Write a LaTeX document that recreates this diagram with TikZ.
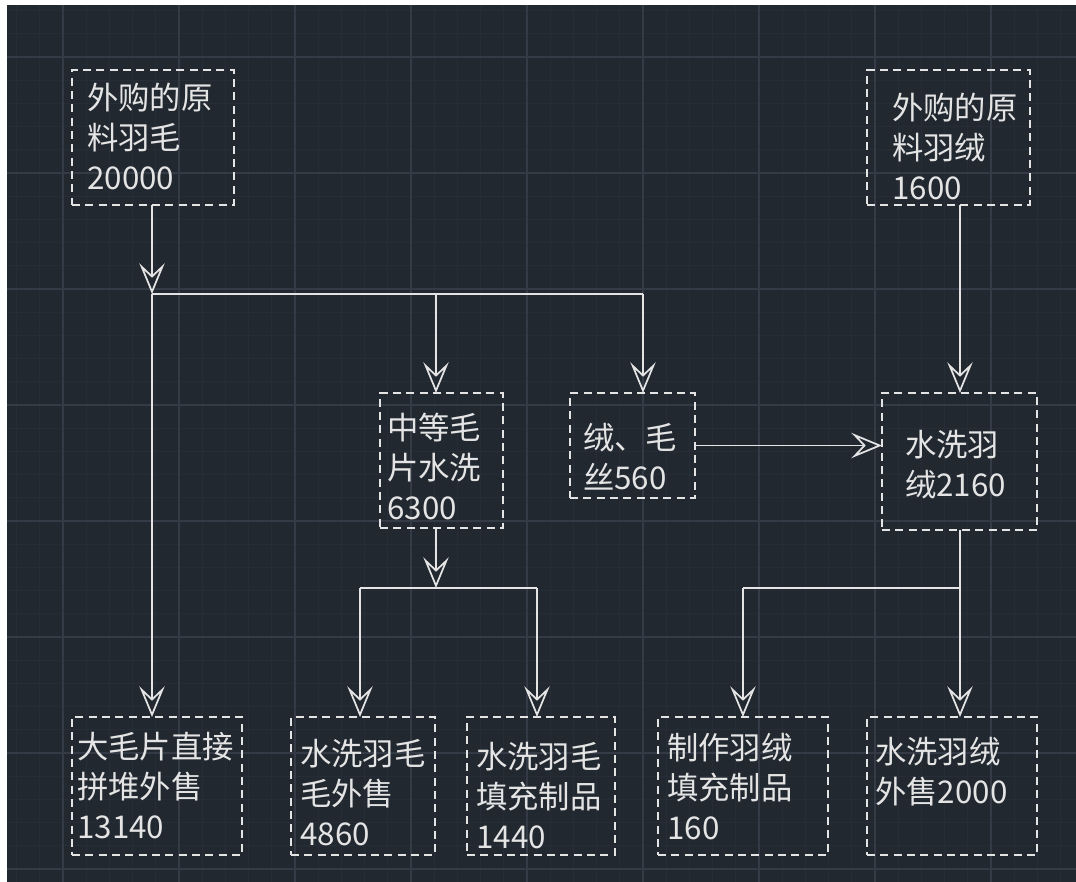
\documentclass[tikz,border=0pt]{standalone}
\usepackage{fontspec}
\setmainfont{Noto Sans CJK SC}
\usetikzlibrary{arrows.meta,fit}
\definecolor{cadbg}{HTML}{212830}
\definecolor{gridminor}{HTML}{262D37}
\definecolor{gridmajor}{HTML}{343B46}
\definecolor{cadline}{HTML}{E4E4E4}

\begin{document}
\begin{tikzpicture}[x=0.75pt, y=-0.75pt,
    flowbox/.style={draw=cadline, line width=1.2pt, dash pattern=on 6pt off 4pt, inner sep=0pt, outer sep=0pt},
    boxtext/.style={text=cadline, anchor=north west, align=left, inner sep=0pt, font=\fontsize{23.5pt}{30pt}\selectfont},
    flow/.style={draw=cadline, line width=1.3pt, -{Stealth[open, length=23pt, width=19pt, inset=9pt]}},
    link/.style={draw=cadline, line width=1.3pt}]
  \useasboundingbox (0,0) rectangle (1076,882);
  \fill[white] (0,0) rectangle (1076,882);
  \fill[cadbg] (7,5) rectangle (1076,882);
  \begin{scope}
    \clip (7,5) rectangle (1076,882);
    \foreach \k in {-2,...,44}
      \draw[gridminor, line width=0.7pt] ({63+23.2*\k},5) -- ({63+23.2*\k},882);
    \foreach \k in {-2,...,36}
      \draw[gridminor, line width=0.7pt] (7,{57+23.2*\k}) -- (1076,{57+23.2*\k});
    \foreach \k in {0,...,8}
      \draw[gridmajor, line width=1.1pt] ({63+116*\k},5) -- ({63+116*\k},882);
    \foreach \k in {0,...,7}
      \draw[gridmajor, line width=1.1pt] (7,{57+116*\k}) -- (1076,{57+116*\k});
  \end{scope}

  \node[flowbox, fit={(72,70) (234,205)}] (feather) {};
  \node[boxtext] (feathertxt) at (87,83) {外购的原\\料羽毛\\20000};
  \node[flowbox, fit={(867,70) (1030,205)}] (down) {};
  \node[boxtext] (downtxt) at (892,93) {外购的原\\料羽绒\\1600};
  \node[flowbox, fit={(380,393) (503,528)}] (midwash) {};
  \node[boxtext] (midwashtxt) at (387,413) {中等毛\\片水洗\\6300};
  \node[flowbox, fit={(570,393) (695,498)}] (fibre) {};
  \node[boxtext] (fibretxt) at (583,423) {绒、毛\\丝560};
  \node[flowbox, fit={(882,393) (1037,530)}] (washdown) {};
  \node[boxtext] (washdowntxt) at (905,430) {水洗羽\\绒2160};
  \node[flowbox, fit={(72,717) (242,855)}] (bigsale) {};
  \node[boxtext] (bigsaletxt) at (77,732) {大毛片直接\\拼堆外售\\13140};
  \node[flowbox, fit={(291,717) (435,855)}] (washsale) {};
  \node[boxtext] (washsaletxt) at (300,739) {水洗羽毛\\毛外售\\4860};
  \node[flowbox, fit={(467,717) (615,855)}] (fillwash) {};
  \node[boxtext] (fillwashtxt) at (476,742) {水洗羽毛\\填充制品\\1440};
  \node[flowbox, fit={(658,717) (828,855)}] (filldown) {};
  \node[boxtext] (filldowntxt) at (667,733) {制作羽绒\\填充制品\\160};
  \node[flowbox, fit={(867,717) (1037,855)}] (downsale) {};
  \node[boxtext] (downsaletxt) at (875,737) {水洗羽绒\\外售2000};

  \coordinate (split) at (152,294);
  \coordinate (toMid) at (436,294);
  \coordinate (toFibre) at (643,294);
  \coordinate (splitMid) at (436,588);
  \coordinate (toWashSale) at (360,588);
  \coordinate (toFill) at (537,588);
  \coordinate (splitDown) at (960,588);
  \coordinate (toFillDown) at (743,588);

  \draw[flow] (feather.south -| split) -- (split);
  \draw[flow] (split) -- (bigsale.north -| split);
  \draw[link] (split) -- (toFibre);
  \draw[flow] (toMid) -- (midwash.north -| toMid);
  \draw[flow] (toFibre) -- (fibre.north -| toFibre);
  \draw[flow] (down.south -| splitDown) -- (washdown.north -| splitDown);
  \draw[flow] (fibre.east) -- (fibre.east -| washdown.west);
  \draw[flow] (midwash.south -| splitMid) -- (splitMid);
  \draw[link] (toWashSale) -- (toFill);
  \draw[flow] (toWashSale) -- (washsale.north -| toWashSale);
  \draw[flow] (toFill) -- (fillwash.north -| toFill);
  \draw[link] (washdown.south -| splitDown) -- (splitDown);
  \draw[link] (toFillDown) -- (splitDown);
  \draw[flow] (toFillDown) -- (filldown.north -| toFillDown);
  \draw[flow] (splitDown) -- (downsale.north -| splitDown);
\end{tikzpicture}
\end{document}
